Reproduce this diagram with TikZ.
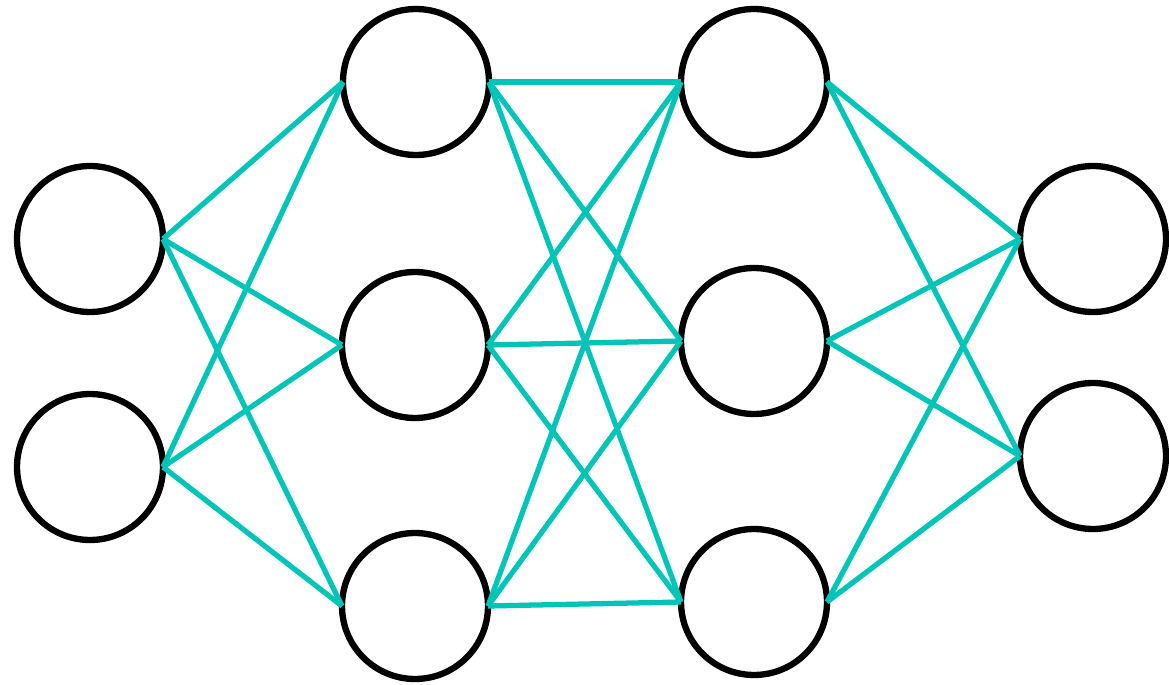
\documentclass[tikz,border=0pt]{standalone}
\usepackage{tikz}
\usetikzlibrary{positioning}
\definecolor{teal1}{HTML}{00C4B8}
\tikzset{
  neuron/.style={circle, draw=black, line width=3.6pt, minimum size=2.92cm, inner sep=0pt, outer sep=0pt, fill=white},
  link/.style={draw=teal1, line width=3pt}
}

\begin{document}
\begin{tikzpicture}[x=0.02cm, y=-0.02cm]
\useasboundingbox (0,0) rectangle (1169,685);
% input layer
\node[neuron] (i1) at (90,239) {};
\node[neuron] (i2) at (90,467) {};
% first hidden layer
\node[neuron] (h1) at (416,82) {};
\node[neuron] (h2) at (415,345) {};
\node[neuron] (h3) at (415,606) {};
% second hidden layer
\node[neuron] (g1) at (754,82) {};
\node[neuron] (g2) at (754,341) {};
\node[neuron] (g3) at (754,602) {};
% output layer
\node[neuron] (o1) at (1093,239) {};
\node[neuron] (o2) at (1093,456) {};
% connections
\foreach \a in {i1,i2}
  \foreach \b in {h1,h2,h3}
    \draw[link] (\a.east) -- (\b.west);
\foreach \a in {h1,h2,h3}
  \foreach \b in {g1,g2,g3}
    \draw[link] (\a.east) -- (\b.west);
\foreach \a in {g1,g2,g3}
  \foreach \b in {o1,o2}
    \draw[link] (\a.east) -- (\b.west);
\end{tikzpicture}
\end{document}
